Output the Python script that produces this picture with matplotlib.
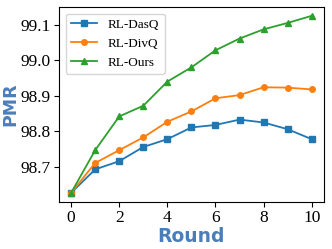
from matplotlib import pyplot as plt
import numpy as np

rounds = np.arange(0, 11)
dasq = [98.627, 98.693, 98.716, 98.756, 98.778, 98.811, 98.818, 98.833, 98.825, 98.806, 98.778]
divq = [98.627, 98.711, 98.747, 98.783, 98.827, 98.856, 98.893, 98.902, 98.924, 98.923, 98.918]
ours = [98.627, 98.747, 98.842, 98.872, 98.940, 98.980, 99.028, 99.061, 99.087, 99.105, 99.125]

plt.rcParams['font.family'] = 'Liberation Serif'
label_color = '#4a7ebb'

fig, ax = plt.subplots(figsize=(3.32, 2.49), dpi=100)
ax.plot(rounds, dasq, marker='s', markersize=4, lw=1.3, color='#1f77b4', label='RL-DasQ')
ax.plot(rounds, divq, marker='o', markersize=4, lw=1.3, color='#ff7f0e', label='RL-DivQ')
ax.plot(rounds, ours, marker='^', markersize=4, lw=1.3, color='#2ca02c', label='RL-Ours')

ax.set_xticks([0, 2, 4, 6, 8, 10])
ax.set_yticks([98.7, 98.8, 98.9, 99.0, 99.1])
ax.tick_params(labelsize=12.5, pad=2.5)
ax.set_xlabel('Round', fontsize=13.5, fontweight='bold', color=label_color,
              family='DejaVu Sans', labelpad=1)
ax.set_ylabel('PMR', fontsize=12.5, fontweight='bold', color=label_color,
              family='DejaVu Sans', labelpad=1)
ax.legend(loc='upper left', fontsize=9.5)

plt.subplots_adjust(left=0.178, right=0.975, top=0.972, bottom=0.19)
plt.savefig('out.png')
